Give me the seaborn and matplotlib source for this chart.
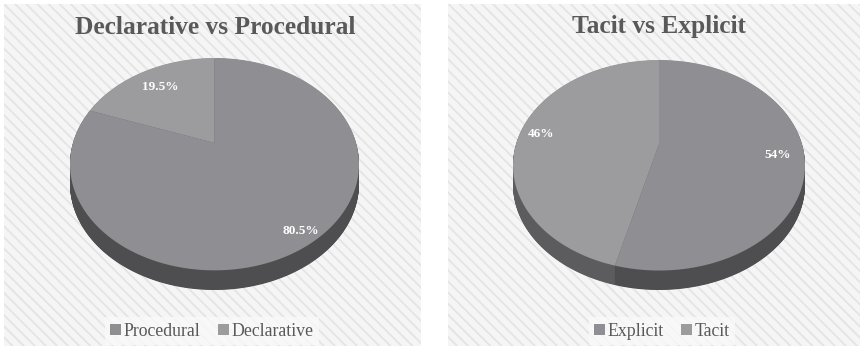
import numpy as np
import matplotlib
matplotlib.use("Agg")
import matplotlib.pyplot as plt
import matplotlib.transforms as mtransforms
from matplotlib.path import Path
from matplotlib.patches import Rectangle
import seaborn as sns

# ---- data ----
dp_labels = ["Procedural", "Declarative"]
dp_values = [80.5, 19.5]
dp_title = "Declarative vs Procedural"

te_labels = ["Explicit", "Tacit"]
te_values = [54, 46]
te_title = "Tacit vs Explicit"

# ---- style ----
sns.set_theme(style="white")
plt.rcParams["font.family"] = ["Liberation Serif", "DejaVu Serif"]
plt.rcParams["hatch.linewidth"] = 1.3

top_colors = sns.color_palette(["#8f8f93", "#9c9c9f"])
side_colors = sns.color_palette(["#4e4e51", "#5c5c5f"])
text_grey = "#595959"

W, H = 860, 346
fig = plt.figure(figsize=(W / 100, H / 100), dpi=100)
fig.patch.set_facecolor("white")


class Tilt(mtransforms.Transform):
    """Perspective tilt of the unit disc: far side compressed, near side stretched."""
    input_dims = 2
    output_dims = 2
    is_separable = False
    has_inverse = False

    def __init__(self, c):
        super().__init__()
        self.c = c
        self.g = np.sqrt(1 - c * c)

    def transform_non_affine(self, xy):
        xy = np.asarray(xy, float)
        u, v = xy[:, 0], xy[:, 1]
        den = 1 + self.c * v
        return np.column_stack([u * self.g / den, (v + self.c) / den])

    def transform_path_non_affine(self, path):
        # flatten the Bezier arcs densely before bending them
        pts = []
        t = np.linspace(0, 1, 24)
        for bez, code in path.iter_bezier():
            pts.append(bez(t))
        verts = np.concatenate(pts) if pts else path.vertices
        return Path(self.transform_non_affine(verts), closed=True)


def px_box(x0, y0, x1, y1):
    return [x0 / W, 1 - y1 / H, (x1 - x0) / W, (y1 - y0) / H]


def panel(x0, x1):
    fig.patches.append(Rectangle((x0 / W, 0), (x1 - x0) / W, 1 - 4 / H,
                                 transform=fig.transFigure, facecolor="#f5f5f5",
                                 edgecolor="#e4e4e4", hatch="\\\\\\", lw=0,
                                 zorder=-1))


def pie3d(box, values, labels, title, title_x, legend_x, label_r, depth=0.185):
    ax = fig.add_axes(box)
    ax.patch.set_alpha(0)
    tilt = Tilt(0.2)
    n_layers = 40
    for d in np.linspace(depth, 0.0, n_layers):
        cols = side_colors if d > 0 else top_colors
        wedges, _ = ax.pie(values, colors=cols, startangle=90, counterclock=False,
                           wedgeprops=dict(linewidth=0, antialiased=True))
        tr = tilt + mtransforms.Affine2D().translate(0, -d) + ax.transData
        for w in wedges:
            w.set_transform(tr)
    top_wedges = wedges
    ax.set_aspect("auto")
    ax.set_xlim(-1, 1)
    ax.set_ylim(-1 - depth, 1)
    ax.axis("off")

    # value labels along each wedge's mid-angle, tilted like the disc
    for w, val, r in zip(top_wedges, values, label_r):
        mid = np.deg2rad((w.theta1 + w.theta2) / 2)
        pt = tilt.transform_non_affine(np.array([[r * np.cos(mid), r * np.sin(mid)]]))[0]
        txt = f"{val:g}%"
        ax.text(pt[0], pt[1], txt, ha="center", va="center", color="white",
                fontsize=9.5, fontweight="bold")

    fig.text(title_x / W, 1 - 27 / H, title, ha="center", va="center",
             fontsize=18.3, fontweight="bold", color=text_grey)

    leg = fig.legend(top_wedges, labels, loc="center", ncol=2,
                     bbox_to_anchor=(legend_x / W, 1 - 331 / H),
                     frameon=True, fontsize=12.8, handlelength=0.6,
                     handleheight=0.6, handletextpad=0.15, columnspacing=1.0,
                     borderpad=0.3, fancybox=False)
    leg.get_frame().set_facecolor("#f9f9f9")
    leg.get_frame().set_edgecolor("none")
    for t in leg.get_texts():
        t.set_color(text_grey)
    return ax


panel(4, 421)
panel(448, 860)

pie3d(px_box(70, 58, 359, 290), dp_values, dp_labels, dp_title, 215, 212,
      label_r=[0.9, 0.75])
pie3d(px_box(513, 60, 805, 290), te_values, te_labels, te_title, 659, 662,
      label_r=[0.82, 0.85])

fig.savefig("out.png", dpi=100, facecolor=fig.get_facecolor())
